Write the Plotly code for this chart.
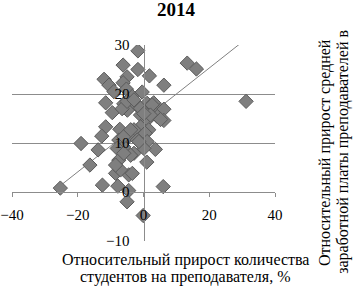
import plotly.graph_objects as go

# Relative growth of students per teacher, % (x) vs relative growth of teacher salary, % (y)
x_vals = [-1.7, -6.2, -1.7, 1.8, -5.0, -12.0, -6.2, -10.5, 6.2, -0.4, -9.0, -5.2,
          13.3, 16.1, 31.2, -3.4,
          -11.5, -6.0, -1.9, 1.1, 3.1, 5.2, -9.5, -4.9, 6.2, -0.9, 4.2, 1.1, 6.2, 1.1, 5.2,
          -7.2, -11.5, -0.9, -2.9, 1.6, 0.5, -4.5, -12.7, -7.5, -1.9, 1.1,
          -19.0, -13.8, 3.6, 0.1, -2.9, -6.0, -8.0, -3.9, -7.5, 1.0, -16.3,
          -8.5, -4.5, -7.0, -3.4, -25.3, -12.5, -7.8, -4.5, 6.0, -5.0, -0.1,
          2.6, 2.1, -1.4, -6.5, -5.0, -2.9, -0.9, -6.0, -3.9, -8.5, -6.0, 0.1]
y_vals = [28.8, 25.9, 25.0, 23.7, 23.5, 23.0, 22.3, 21.8, 21.8, 20.4, 20.5, 21.0,
          26.3, 25.1, 18.5, 19.5,
          18.2, 18.0, 17.6, 18.1, 18.2, 16.7, 16.2, 16.7, 16.9, 15.7, 15.4, 16.0, 14.6, 14.7, 14.8,
          12.8, 13.3, 13.3, 12.7, 12.7, 12.0, 11.3, 11.4, 10.6, 10.6, 10.3,
          9.9, 8.6, 8.7, 8.9, 7.9, 9.2, 8.9, 7.5, 6.5, 6.1, 5.5,
          3.8, 3.5, 4.5, 3.8, 0.8, 1.4, 1.2, 0.3, 1.1, -2.0, -4.8,
          17.8, 15.7, 10.3, 17.0, 18.5, 18.8, 17.1, 11.3, 12.7, 5.5, 7.9, 16.0]

# Linear trendline coefficients (as shown in the chart)
trend_slope = 0.53
trend_intercept = 14.7

x_ticks = [-40, -20, 0, 20, 40]
y_ticks = [-10, 0, 10, 20, 30]

title_text = "2014"
x_title_lines = ["Относительный прирост количества", "студентов на преподавателя, %"]
y_title_lines = ["Относительный прирост средней", "заработной платы преподавателей в"]

trend_x = [min(x_vals), max(x_vals)]
trend_y = [trend_intercept + trend_slope * v for v in trend_x]

FONT = "Liberation Serif"

fig = go.Figure()
fig.add_trace(go.Scatter(
    x=trend_x, y=trend_y, mode="lines",
    line=dict(color="#808080", width=1), hoverinfo="skip", showlegend=False))
fig.add_trace(go.Scatter(
    x=x_vals, y=y_vals, mode="markers",
    marker=dict(symbol="diamond", size=11, color="#7f7f7f",
                line=dict(color="#5a5a5a", width=1)),
    showlegend=False))

annotations = [
    dict(text="<b>" + title_text + "</b>", xref="paper", yref="paper",
         x=0.624, y=1.179, showarrow=False, xanchor="center", yanchor="middle",
         font=dict(family=FONT, size=19)),
]
for txt, yy in zip(x_title_lines, [-0.097, -0.184]):
    annotations.append(dict(text=txt, xref="paper", yref="paper", x=0.658, y=yy,
                            showarrow=False, xanchor="center", yanchor="middle",
                            font=dict(family=FONT, size=16)))
for txt, xx in zip(y_title_lines, [1.19, 1.258]):
    annotations.append(dict(text=txt, xref="paper", yref="paper", x=xx, y=0.454,
                            showarrow=False, xanchor="center", yanchor="middle",
                            textangle=-90, font=dict(family=FONT, size=16)))

fig.update_layout(
    width=353, height=288,
    margin=dict(l=12, r=78, t=45, b=47, autoexpand=False),
    paper_bgcolor="white", plot_bgcolor="white",
    font=dict(family=FONT, size=14, color="black"),
    xaxis=dict(range=[-40, 40], tickvals=x_ticks, showgrid=False, zeroline=False,
               showline=True, linecolor="#8c8c8c", linewidth=1,
               anchor="free", position=0.25, automargin=False,
               ticks="outside", ticklen=4, tickcolor="#8c8c8c",
               ticklabelstandoff=5, tickfont=dict(family=FONT, size=15)),
    yaxis=dict(range=[-10, 30], tickvals=y_ticks, showgrid=True, gridcolor="#8c8c8c",
               gridwidth=1, zeroline=False,
               showline=True, linecolor="#8c8c8c", linewidth=1,
               anchor="free", position=0.5, automargin=False,
               ticks="", ticklabelstandoff=11, tickfont=dict(family=FONT, size=15)),
    annotations=annotations,
)

fig.write_html("out.html", config={"displayModeBar": False},
               post_script="document.body.style.margin='0';document.body.style.overflow='hidden';")
